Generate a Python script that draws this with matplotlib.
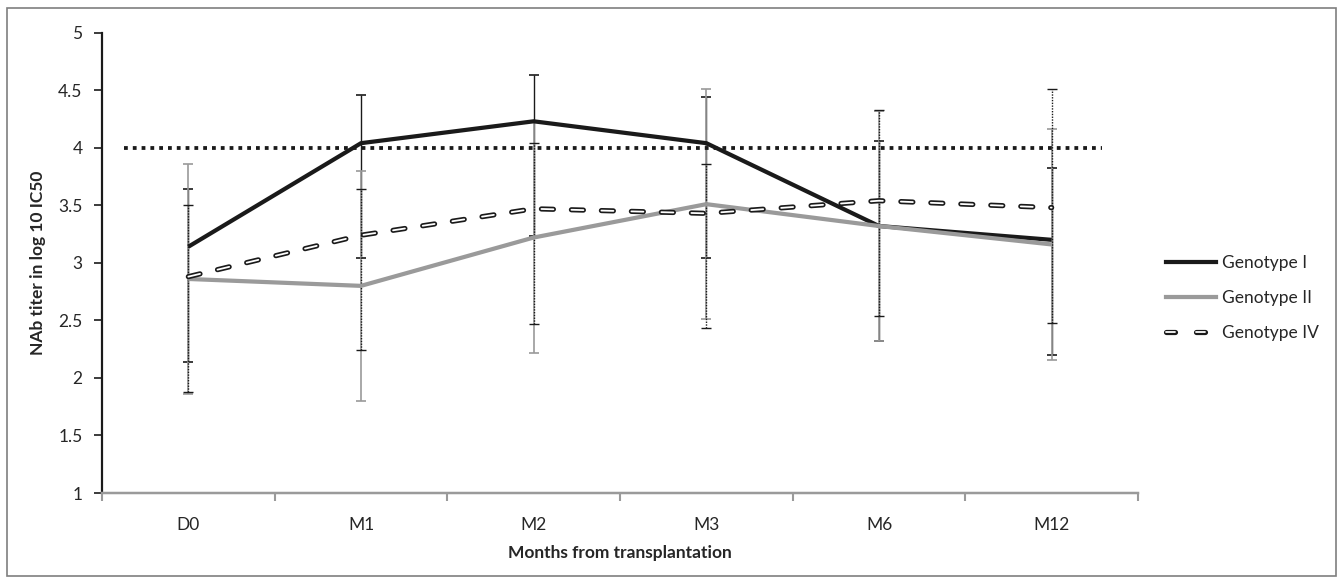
import matplotlib
matplotlib.use("Agg")
import matplotlib.pyplot as plt
import numpy as np
from matplotlib.lines import Line2D
from matplotlib.legend_handler import HandlerTuple
from matplotlib.patches import Rectangle

# data
months = ['D0', 'M1', 'M2', 'M3', 'M6', 'M12']

geno1 = [3.14, 4.04, 4.23, 4.04, 3.32, 3.20]
geno1_plus = [0.50, 0.42, 0.40, 0.40, 0.74, 0.62]
geno1_minus = [1.0, 1.0, 1.0, 1.0, 1.0, 1.0]

geno2 = [2.86, 2.80, 3.22, 3.51, 3.32, 3.16]
geno2_plus = [1.0, 1.0, 1.0, 1.0, 1.0, 1.0]
geno2_minus = [1.0, 1.0, 1.0, 1.0, 1.0, 1.0]

geno4 = [2.88, 3.24, 3.47, 3.43, 3.54, 3.48]
geno4_plus = [0.62, 0.40, 0.57, 0.43, 0.79, 1.03]
geno4_minus = [1.0, 1.0, 1.0, 1.0, 1.0, 1.0]

threshold = 4.0
threshold_span = [-0.37, 5.29]

plt.rcParams['font.family'] = ['Lato', 'DejaVu Sans']
plt.rcParams['lines.scale_dashes'] = False

PX = 0.72  # points per pixel at dpi 100
text_col = '#262626'

fig = plt.figure(figsize=(13.38, 5.78), dpi=100)
ax = fig.add_axes([102 / 1338, 1 - 493 / 578, 1036 / 1338, (493 - 32.7) / 578])

x = np.arange(len(months))

# error bars
eb1 = ax.errorbar(x, geno1, yerr=[geno1_minus, geno1_plus], fmt='none',
                  ecolor='#1a1a1a', elinewidth=1.0, capsize=5 * PX, capthick=1.2, zorder=2)
eb2 = ax.errorbar(x, geno2, yerr=[geno2_minus, geno2_plus], fmt='none',
                  ecolor='#9a9a9a', elinewidth=1.2, capsize=5 * PX, capthick=1.2, zorder=2)
eb4 = ax.errorbar(x, geno4, yerr=[geno4_minus, geno4_plus], fmt='none',
                  ecolor='#1a1a1a', elinewidth=1.0, capsize=5 * PX, capthick=1.0, zorder=2.1)
for lc in eb4[2]:
    lc.set_linestyle((0, (1.0, 1.0)))

# threshold line
ax.plot(threshold_span, [threshold, threshold], color='#1a1a1a', lw=3.8 * PX,
        dashes=(3.8 * PX, 5.0 * PX), dash_capstyle='butt', zorder=3)

# series lines
dash_on = 12 * PX
dash_off = 18 * PX
ax.plot(x, geno1, color='#1a1a1a', lw=4.2 * PX, solid_capstyle='butt', zorder=4)
ax.plot(x, geno2, color='#9a9a9a', lw=4.2 * PX, solid_capstyle='butt', zorder=4)
ax.plot(x, geno4, color='#1a1a1a', lw=5.2 * PX, dashes=(dash_on, dash_off),
        dash_capstyle='round', zorder=5)
ax.plot(x, geno4, color='white', lw=1.8 * PX, dashes=(dash_on, dash_off),
        dash_capstyle='round', zorder=6)

ax.set_xlim(-0.5, len(months) - 0.5)
ax.set_ylim(1, 5)
ax.set_yticks(np.arange(1, 5.01, 0.5))
ax.set_yticklabels(['1', '1.5', '2', '2.5', '3', '3.5', '4', '4.5', '5'])
ax.set_xticks(x)
ax.set_xticklabels(months)
ax.set_xticks(np.arange(-0.5, len(months), 1.0), minor=True)
ax.tick_params(axis='x', which='major', length=0, pad=17, labelsize=12.5, labelcolor=text_col)
ax.tick_params(axis='x', which='minor', length=6, width=1.5, color='#9a9a9a', direction='out')
ax.tick_params(axis='y', length=6, width=1.2, color='#1a1a1a', pad=8, labelsize=12.5,
               labelcolor=text_col)

for side in ['top', 'right']:
    ax.spines[side].set_visible(False)
ax.spines['left'].set_color('#1a1a1a')
ax.spines['left'].set_linewidth(2.2 * PX)
ax.spines['bottom'].set_color('#9a9a9a')
ax.spines['bottom'].set_linewidth(2.5 * PX)
ax.spines['left'].set_zorder(1)

ax.set_xlabel('Months from transplantation', fontsize=12.5, fontweight='bold', color=text_col,
              labelpad=9)
ax.set_ylabel('NAb titer in log 10 IC50', fontsize=12.5, fontweight='bold', color=text_col,
              labelpad=9)

# legend
h1 = Line2D([], [], color='#1a1a1a', lw=4.2 * PX)
h2 = Line2D([], [], color='#9a9a9a', lw=4.2 * PX)
leg_dash = (9 * PX, 21 * PX)
h4a = Line2D([], [], color='#1a1a1a', lw=5.2 * PX, dashes=leg_dash, dash_capstyle='round')
h4b = Line2D([], [], color='white', lw=1.8 * PX, dashes=leg_dash, dash_capstyle='round')
leg = fig.legend([h1, h2, (h4a, h4b)], ['Genotype I', 'Genotype II', 'Genotype IV'],
                 handler_map={tuple: HandlerTuple(ndivide=1, pad=0)},
                 loc='center left', bbox_to_anchor=(1166 / 1338, 1 - 298 / 578),
                 frameon=False, borderpad=0, borderaxespad=0, handlelength=2.9,
                 handletextpad=0.35, labelspacing=1.1, fontsize=12.5)
for t in leg.get_texts():
    t.set_color(text_col)

# outer chart border
fig.add_artist(Rectangle((7 / 1338, 2 / 578), 1329 / 1338, 568 / 578, transform=fig.transFigure,
                         fill=False, edgecolor='#7f7f7f', lw=1.2))

fig.savefig('out.png', dpi=100)
